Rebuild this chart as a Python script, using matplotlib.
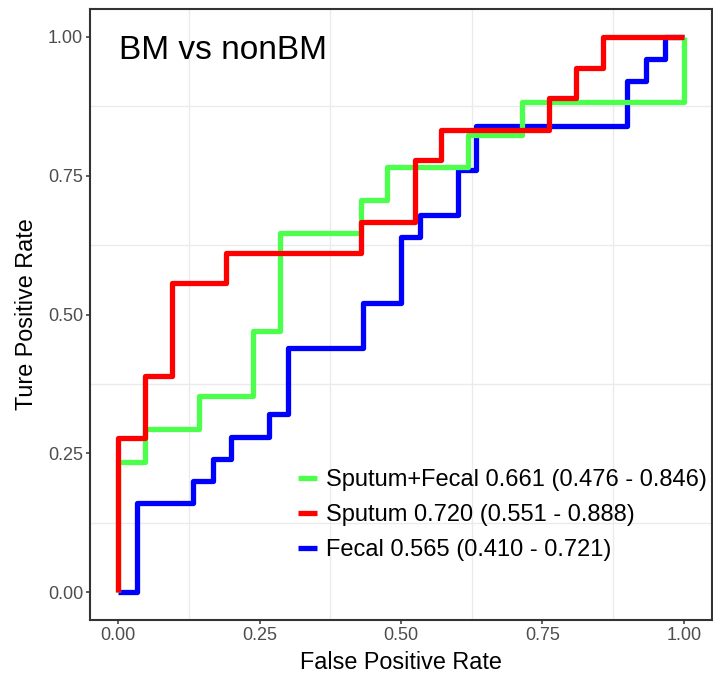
import matplotlib
matplotlib.use("Agg")
import matplotlib.pyplot as plt
from matplotlib.ticker import MultipleLocator

plt.rcParams['font.family'] = ['Liberation Sans', 'DejaVu Sans']

# ROC step points (false positive rate, true positive rate)
combo_fpr = [0.0, 0.0, 0.048, 0.048, 0.143, 0.143, 0.238, 0.238, 0.286, 0.286, 0.429, 0.429,
             0.476, 0.476, 0.619, 0.619, 0.714, 0.714, 1.0, 1.0]
combo_tpr = [0.0, 0.235, 0.235, 0.294, 0.294, 0.353, 0.353, 0.471, 0.471, 0.647, 0.647, 0.706,
             0.706, 0.765, 0.765, 0.824, 0.824, 0.882, 0.882, 1.0]

sputum_fpr = [0.0, 0.0, 0.048, 0.048, 0.095, 0.095, 0.190, 0.190, 0.429, 0.429, 0.524, 0.524,
              0.571, 0.571, 0.762, 0.762, 0.810, 0.810, 0.857, 0.857, 1.0]
sputum_tpr = [0.0, 0.278, 0.278, 0.389, 0.389, 0.556, 0.556, 0.611, 0.611, 0.667, 0.667, 0.778,
              0.778, 0.833, 0.833, 0.889, 0.889, 0.944, 0.944, 1.0, 1.0]

fecal_fpr = [0.0, 0.033, 0.033, 0.133, 0.133, 0.167, 0.167, 0.200, 0.200, 0.267, 0.267, 0.300,
             0.300, 0.433, 0.433, 0.500, 0.500, 0.533, 0.533, 0.600, 0.600, 0.633, 0.633,
             0.900, 0.900, 0.933, 0.933, 0.967, 0.967, 1.0]
fecal_tpr = [0.0, 0.0, 0.16, 0.16, 0.20, 0.20, 0.24, 0.24, 0.28, 0.28, 0.32, 0.32, 0.44, 0.44,
             0.52, 0.52, 0.64, 0.64, 0.68, 0.68, 0.76, 0.76, 0.84, 0.84, 0.92, 0.92, 0.96, 0.96,
             1.0, 1.0]

labels = ["Sputum+Fecal 0.661 (0.476 - 0.846)",
          "Sputum 0.720 (0.551 - 0.888)",
          "Fecal 0.565 (0.410 - 0.721)"]
colors = ["#4DFF4D", "#FF0000", "#0000FF"]
ticks = [0.0, 0.25, 0.5, 0.75, 1.0]
tick_labels = ["0.00", "0.25", "0.50", "0.75", "1.00"]

fig = plt.figure(figsize=(7.13, 6.8), dpi=100)
ax = fig.add_axes([90 / 713, 60 / 680, 622 / 713, 611 / 680])

lw = 3.8
ax.plot(combo_fpr, combo_tpr, color=colors[0], lw=lw, label=labels[0], zorder=3,
        solid_joinstyle='round', solid_capstyle='butt')
ax.plot(sputum_fpr, sputum_tpr, color=colors[1], lw=lw, label=labels[1], zorder=4,
        solid_joinstyle='round', solid_capstyle='butt')
ax.plot(fecal_fpr, fecal_tpr, color=colors[2], lw=lw, label=labels[2], zorder=2,
        solid_joinstyle='round', solid_capstyle='butt')

ax.set_xlim(-0.05, 1.05)
ax.set_ylim(-0.05, 1.05)
ax.set_xticks(ticks)
ax.set_xticklabels(tick_labels)
ax.set_yticks(ticks)
ax.set_yticklabels(tick_labels)
ax.xaxis.set_minor_locator(MultipleLocator(0.25, offset=0.125))
ax.yaxis.set_minor_locator(MultipleLocator(0.25, offset=0.125))
ax.grid(which='minor', color='#EBEBEB', lw=1.0)
ax.set_axisbelow(True)
ax.tick_params(which='minor', length=0)
ax.tick_params(which='major', length=3, width=1.1, color='#333333',
               labelcolor='#4D4D4D', labelsize=13, pad=2)

for s in ax.spines.values():
    s.set_color('#333333')
    s.set_linewidth(1.5)

ax.set_xlabel("False Positive Rate", fontsize=16.8, labelpad=5)
ax.set_ylabel("Ture Positive Rate", fontsize=16.8, labelpad=7)

ax.text(0.002, 0.975, "BM vs nonBM", fontsize=24, ha='left', va='center')

leg = ax.legend(loc='upper left', bbox_to_anchor=(298 / 713, 1 - 469 / 680),
                bbox_transform=fig.transFigure, frameon=False, fontsize=17,
                handlelength=0.8, handletextpad=0.4, labelspacing=0.56,
                borderpad=0, borderaxespad=0)

fig.savefig("out.png", dpi=100)
